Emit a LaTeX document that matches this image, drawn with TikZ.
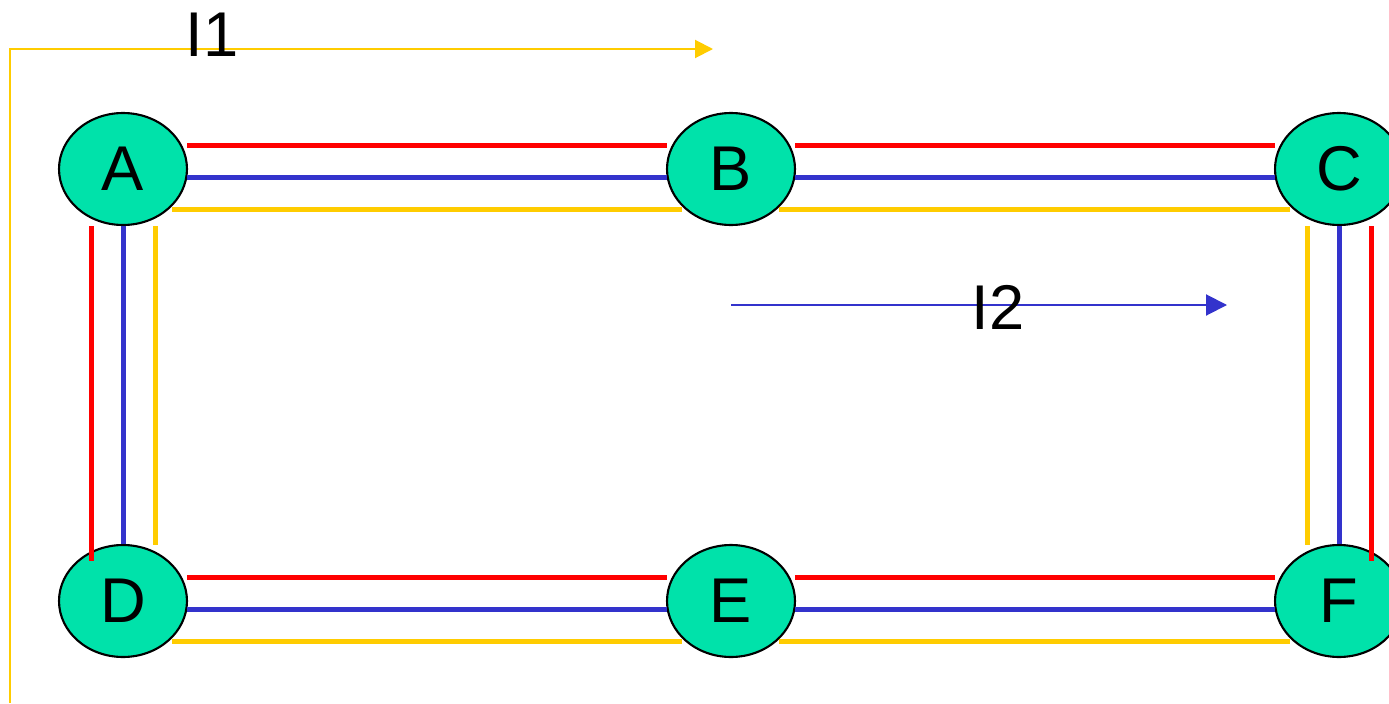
\documentclass[tikz,border=0pt]{standalone}
\usepackage{fontspec}
\setmainfont{Liberation Sans}
\usetikzlibrary{shapes.geometric,arrows.meta}

\begin{document}
\begin{tikzpicture}[x=0.02cm,y=-0.02cm,
  station/.style={ellipse,draw,line width=1.2pt,fill={rgb,255:red,0;green,226;blue,170},minimum width=2.56cm,minimum height=2.24cm,inner sep=0pt,font=\fontsize{36}{36}\selectfont},
  redline/.style={line width=0.1cm,draw={rgb,255:red,255;green,0;blue,0}},
  blueline/.style={line width=0.1cm,draw={rgb,255:red,51;green,51;blue,204}},
  yellowline/.style={line width=0.1cm,draw={rgb,255:red,255;green,204;blue,0}},
  current/.style={font=\fontsize{36}{36}\selectfont}]
\useasboundingbox (0,0) rectangle (1389,703);
\node[station] (A) at (123,169) {A};
\node[station] (B) at (731,169) {B};
\node[station] (C) at (1339,169) {C};
\node[station] (D) at (123,601) {D};
\node[station] (E) at (731,601) {E};
\node[station] (F) at (1339,601) {F};
\draw[redline] ([shift={(64,-24)}]A.center) -- ([shift={(-64,-24)}]B.center);
\draw[blueline] ([shift={(64,8)}]A.center) -- ([shift={(-64,8)}]B.center);
\draw[yellowline] ([shift={(49,40)}]A.center) -- ([shift={(-49,40)}]B.center);
\draw[redline] ([shift={(64,-24)}]B.center) -- ([shift={(-64,-24)}]C.center);
\draw[blueline] ([shift={(64,8)}]B.center) -- ([shift={(-64,8)}]C.center);
\draw[yellowline] ([shift={(48,40)}]B.center) -- ([shift={(-49,40)}]C.center);
\draw[redline] ([shift={(64,-24)}]D.center) -- ([shift={(-64,-24)}]E.center);
\draw[blueline] ([shift={(64,8)}]D.center) -- ([shift={(-64,8)}]E.center);
\draw[yellowline] ([shift={(49,40)}]D.center) -- ([shift={(-49,40)}]E.center);
\draw[redline] ([shift={(64,-24)}]E.center) -- ([shift={(-64,-24)}]F.center);
\draw[blueline] ([shift={(64,8)}]E.center) -- ([shift={(-64,8)}]F.center);
\draw[yellowline] ([shift={(48,40)}]E.center) -- ([shift={(-49,40)}]F.center);
\draw[redline] ([shift={(-32,57)}]A.center) -- ([shift={(-32,-40)}]D.center);
\draw[blueline] (A.south) -- (D.north);
\draw[yellowline] ([shift={(32,57)}]A.center) -- ([shift={(32,-56)}]D.center);
\draw[yellowline] ([shift={(-32,57)}]C.center) -- ([shift={(-32,-56)}]F.center);
\draw[blueline] (C.south) -- (F.north);
\draw[redline] ([shift={(32,57)}]C.center) -- ([shift={(32,-40)}]F.center);
\coordinate (l1start) at (10,703);
\coordinate (l1end) at (713,49);
\draw[line width=0.04cm,draw={rgb,255:red,255;green,204;blue,0},-{Triangle[length=0.36cm,width=0.36cm]}] (l1start) |- (l1end);
\node[current] (l1) at (212,35) {I1};
\coordinate (l2start) at (731,305);
\coordinate (l2end) at (1227,305);
\draw[line width=0.04cm,draw={rgb,255:red,51;green,51;blue,204},fill={rgb,255:red,51;green,51;blue,204},-{Triangle[length=0.42cm,width=0.42cm]}] (l2start) -- (l2end);
\node[current] (l2) at (998,307) {I2};
\end{tikzpicture}
\end{document}
